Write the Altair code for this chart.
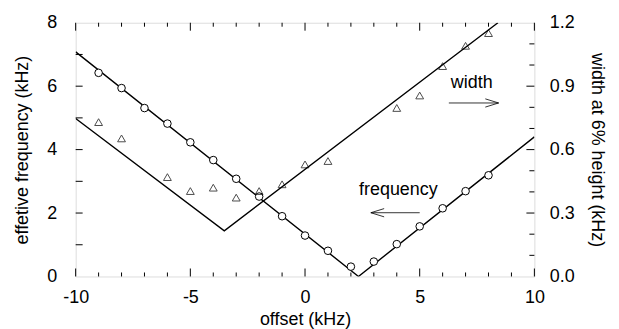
import altair as alt
import pandas as pd

FONT = "Liberation Sans"

# measured data
freq_x = [-9, -8, -7, -6, -5, -4, -3, -2, -1, 0, 1, 2, 3, 4, 5, 6, 7, 8]
freq_y = [6.42, 5.94, 5.31, 4.82, 4.23, 3.67, 3.08, 2.52, 1.90, 1.29, 0.81, 0.31, 0.47, 1.02, 1.58, 2.15, 2.69, 3.19]

width_x = [-9, -8, -6, -5, -4, -3, -2, -1, 0, 1, 4, 5, 6, 7, 8]
width_y = [0.730, 0.653, 0.470, 0.404, 0.420, 0.373, 0.404, 0.436, 0.530, 0.546, 0.797, 0.856, 0.995, 1.091, 1.151]

# fitted V lines
freq_fit_x = [-10, 2.33, 10]
freq_fit_y = [7.08, 0.0, 4.40]
width_fit_x = [-10, -3.52, 8.41]
width_fit_y = [0.747, 0.216, 1.2]

# axis ticks
x_major = [-10, -5, 0, 5, 10]
x_minor = [-9, -8, -7, -6, -4, -3, -2, -1, 1, 2, 3, 4, 6, 7, 8, 9]
left_ticks = [1, 2, 3, 4, 5, 6, 7]
right_major = [0.3, 0.6, 0.9]
right_minor = [0.1, 0.2, 0.4, 0.5, 0.7, 0.8, 1.0, 1.1]

# annotations
labels = ["width", "frequency"]
label_x = [7.27, 4.07]
label_y = [6.09, 2.72]
arrow_x = [6.27, 7.86, 7.86, 2.87, 2.87, 2.87]
arrow_x2 = [8.44, 8.44, 8.44, 5.0, 3.45, 3.45]
arrow_y = [5.47, 5.60, 5.34, 2.01, 2.01, 2.01]
arrow_y2 = [5.47, 5.47, 5.47, 2.01, 2.14, 1.88]

W, H = 461, 255

xs = alt.Scale(domain=[-10, 10], nice=False, zero=False)
yl = alt.Scale(domain=[0, 8], nice=False, zero=False)
yr = alt.Scale(domain=[0, 1.2], nice=False, zero=False)

common = dict(ticks=False, domain=False, grid=False, labelFont=FONT, titleFont=FONT,
              labelColor="black", titleColor="black", titleFontWeight="normal",
              labelFontSize=18, titleFontSize=18, labelFlush=False)

xaxis = alt.Axis(values=x_major, title="offset (kHz)", labelPadding=12, titlePadding=4,
                 labelExpr="replace(datum.label, '\u2212', '-')", **common)
ylaxis = alt.Axis(values=[0, 2, 4, 6, 8], title="effetive frequency (kHz)",
                  labelPadding=19, titlePadding=15, **common)
yraxis = alt.Axis(values=[0, 0.3, 0.6, 0.9, 1.2], format=".1f", orient="right",
                  title="width at 6% height (kHz)", labelPadding=15, titlePadding=13, **common)

fdf = pd.DataFrame({"x": freq_x, "y": freq_y})
ffit = pd.DataFrame({"x": freq_fit_x, "y": freq_fit_y})
wdf = pd.DataFrame({"x": width_x, "y": width_y})
wfit = pd.DataFrame({"x": width_fit_x, "y": width_fit_y})

circles = alt.Chart(fdf).mark_point(shape="circle", filled=False, color="black", size=58,
                                     strokeWidth=1, fill="white", fillOpacity=1).encode(
    x=alt.X("x:Q", scale=xs, axis=xaxis),
    y=alt.Y("y:Q", scale=yl, axis=ylaxis),
)
fline = alt.Chart(ffit).mark_line(color="black", strokeWidth=1.4, clip=True).encode(
    x=alt.X("x:Q", scale=xs), y=alt.Y("y:Q", scale=yl))

xmaj = pd.DataFrame({"v": x_major})
xmin = pd.DataFrame({"v": x_minor})
lt = pd.DataFrame({"v": left_ticks})


def xt(df, y0, y1):
    return alt.Chart(df).mark_rule(color="black", strokeWidth=1).encode(
        x=alt.X("v:Q", scale=xs), y=alt.value(y0), y2=alt.value(y1))


xticks = [xt(xmaj, H, H - 8), xt(xmaj, 0, 8), xt(xmin, H, H - 4), xt(xmin, 0, 4)]
lticks = alt.Chart(lt).mark_rule(color="black", strokeWidth=1).encode(
    y=alt.Y("v:Q", scale=yl), x=alt.value(0), x2=alt.value(7))

tdf = pd.DataFrame({"t": labels, "x": label_x, "y": label_y})
texts = alt.Chart(tdf).mark_text(font=FONT, fontSize=18, color="black", baseline="middle",
                                 align="center").encode(
    x=alt.X("x:Q", scale=xs), y=alt.Y("y:Q", scale=yl), text="t:N")
adf = pd.DataFrame({"x": arrow_x, "x2": arrow_x2, "y": arrow_y, "y2": arrow_y2})
arrows = alt.Chart(adf).mark_rule(color="black", strokeWidth=0.8).encode(
    x=alt.X("x:Q", scale=xs), x2="x2:Q", y=alt.Y("y:Q", scale=yl), y2="y2:Q")

left = alt.layer(fline, circles, *xticks, lticks, texts, arrows)

triangles = alt.Chart(wdf).mark_point(shape="triangle-up", filled=False, color="black", size=62,
                                       strokeWidth=1).encode(
    x=alt.X("x:Q", scale=xs),
    y=alt.Y("y:Q", scale=yr, axis=yraxis),
)
wline = alt.Chart(wfit).mark_line(color="black", strokeWidth=1.4, clip=True).encode(
    x=alt.X("x:Q", scale=xs), y=alt.Y("y:Q", scale=yr))
rmaj = pd.DataFrame({"v": right_major})
rmin = pd.DataFrame({"v": right_minor})
rt1 = alt.Chart(rmaj).mark_rule(color="black", strokeWidth=1).encode(
    y=alt.Y("v:Q", scale=yr), x=alt.value(W), x2=alt.value(W - 8))
rt2 = alt.Chart(rmin).mark_rule(color="black", strokeWidth=1).encode(
    y=alt.Y("v:Q", scale=yr), x=alt.value(W), x2=alt.value(W - 5))

right = alt.layer(wline, triangles, rt1, rt2)

chart = alt.layer(left, right).resolve_scale(y="independent").properties(
    width=W, height=H
).configure_view(stroke="black", strokeWidth=1.2).configure(background="white")

chart.save("out.html", embed_options={"renderer": "svg", "actions": False})
